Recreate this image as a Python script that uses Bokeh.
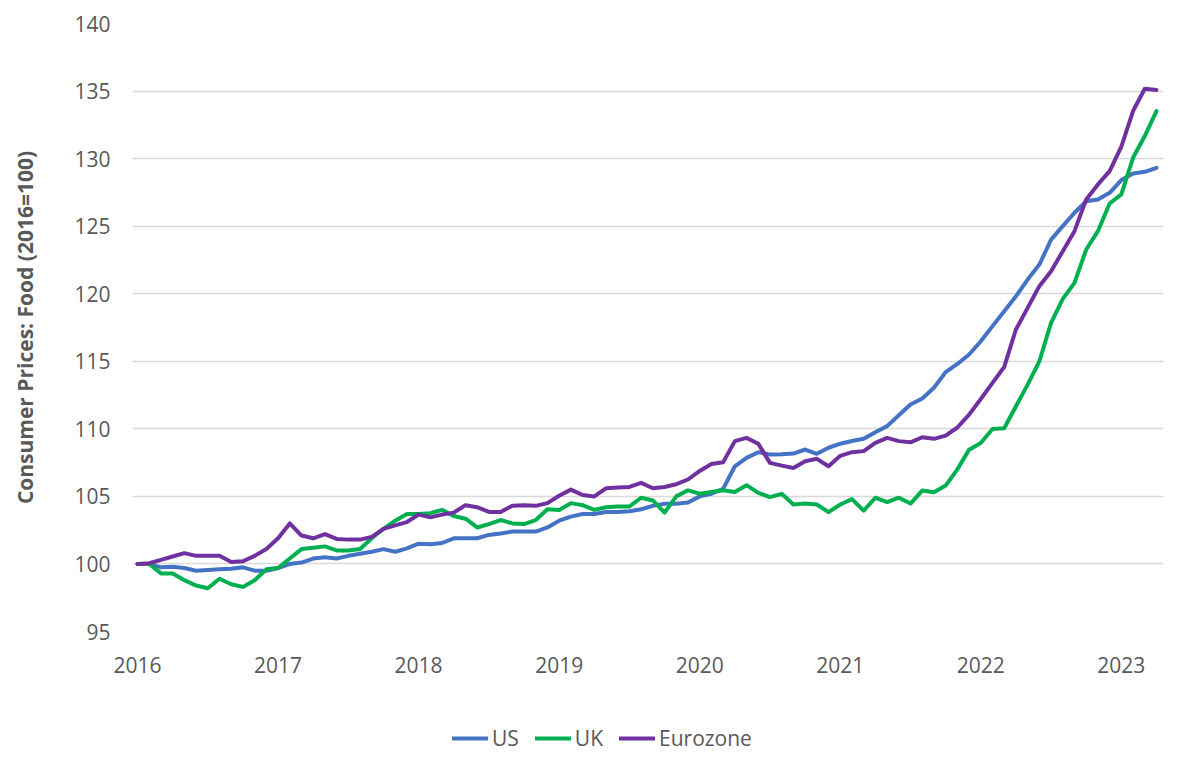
from bokeh.plotting import figure
from bokeh.layouts import column
from bokeh.models import Range1d, FixedTicker, Legend, LegendItem
from bokeh.embed import file_html
from bokeh.resources import INLINE

# Monthly index: 0 = Jan 2016 ... 87 = Apr 2023
months = list(range(88))

us = [100.0, 100.0, 99.75, 99.8, 99.7, 99.5, 99.55, 99.6, 99.65, 99.75, 99.5, 99.5,
      99.7, 100.0, 100.1, 100.4, 100.5, 100.4, 100.6, 100.75, 100.9, 101.1, 100.9, 101.15,
      101.5, 101.45, 101.55, 101.9, 101.9, 101.9, 102.15, 102.25, 102.4, 102.4, 102.4, 102.7,
      103.2, 103.5, 103.7, 103.7, 103.85, 103.85, 103.9, 104.05, 104.3, 104.45, 104.45, 104.55,
      105.0, 105.2, 105.55, 107.23, 107.85, 108.27, 108.1, 108.12, 108.17, 108.47, 108.15, 108.6,
      108.9, 109.1, 109.26, 109.75, 110.2, 111.0, 111.8, 112.25, 113.04, 114.2, 114.8, 115.5,
      116.48, 117.6, 118.7, 119.81, 121.05, 122.16, 124.0, 125.0, 125.99, 126.85, 126.98, 127.47,
      128.41, 128.9, 129.02, 129.32]

uk = [100.0, 100.0, 99.3, 99.3, 98.8, 98.4, 98.2, 98.9, 98.5, 98.3, 98.8, 99.6,
      99.7, 100.4, 101.1, 101.2, 101.3, 101.0, 101.0, 101.1, 101.9, 102.6, 103.2, 103.7,
      103.7, 103.75, 104.0, 103.55, 103.35, 102.7, 102.95, 103.25, 103.0, 102.95, 103.25, 104.05,
      104.0, 104.5, 104.35, 104.0, 104.2, 104.25, 104.25, 104.9, 104.7, 103.8, 105.0, 105.45,
      105.2, 105.33, 105.45, 105.33, 105.83, 105.26, 104.94, 105.19, 104.4, 104.47, 104.4, 103.83,
      104.4, 104.8, 103.95, 104.9, 104.57, 104.9, 104.47, 105.43, 105.3, 105.8, 107.0, 108.46,
      108.95, 109.99, 110.04, 111.67, 113.27, 115.0, 117.84, 119.62, 120.8, 123.27, 124.63, 126.68,
      127.35, 130.06, 131.67, 133.52]

eurozone = [100.0, 100.05, 100.3, 100.55, 100.8, 100.6, 100.6, 100.6, 100.15, 100.2, 100.6, 101.1,
            101.9, 103.0, 102.1, 101.9, 102.2, 101.85, 101.8, 101.8, 102.0, 102.6, 102.85, 103.1,
            103.65, 103.45, 103.65, 103.8, 104.35, 104.2, 103.85, 103.85, 104.3, 104.35, 104.3, 104.5,
            105.05, 105.5, 105.1, 105.0, 105.6, 105.65, 105.7, 106.0, 105.6, 105.7, 105.9, 106.25,
            106.88, 107.4, 107.53, 109.09, 109.33, 108.9, 107.48, 107.28, 107.1, 107.6, 107.78, 107.23,
            108.0, 108.27, 108.35, 108.96, 109.33, 109.09, 109.0, 109.38, 109.26, 109.5, 110.1, 111.05,
            112.21, 113.4, 114.58, 117.35, 118.95, 120.56, 121.67, 123.15, 124.63, 126.98, 128.09, 129.07,
            130.88, 133.52, 135.17, 135.07]

series_names = ["US", "UK", "Eurozone"]
series_colors = ["#4472C4", "#00B050", "#7030A0"]
series_data = [us, uk, eurozone]

year_ticks = [0, 12, 24, 36, 48, 60, 72, 84]
year_labels = ["2016", "2017", "2018", "2019", "2020", "2021", "2022", "2023"]
y_ticks = [95, 100, 105, 110, 115, 120, 125, 130, 135, 140]

FONT = "Open Sans"
TXT = "#595959"

p = figure(width=1184, height=686, output_backend="svg", toolbar_location=None,
           x_range=Range1d(-0.43, 87.6), y_range=Range1d(95, 140),
           min_border_left=132, min_border_right=21, min_border_top=23, min_border_bottom=55)
p.outline_line_color = None
p.background_fill_color = "white"
p.border_fill_color = "white"

for name, data, col in zip(series_names, series_data, series_colors):
    p.line(months, data, line_color=col, line_width=4, line_join="round", line_cap="round")

p.xaxis.ticker = FixedTicker(ticks=year_ticks)
p.xaxis.major_label_overrides = {t: l for t, l in zip(year_ticks, year_labels)}
p.xaxis.axis_line_color = None
p.xaxis.major_tick_line_color = None
p.xaxis.minor_tick_line_color = None
p.xaxis.major_label_standoff = 19
p.xaxis.major_label_text_font = FONT
p.xaxis.major_label_text_font_size = "21px"
p.xaxis.major_label_text_color = TXT

p.yaxis.ticker = FixedTicker(ticks=y_ticks)
p.yaxis.axis_line_color = None
p.yaxis.major_tick_line_color = None
p.yaxis.minor_tick_line_color = None
p.yaxis.major_label_standoff = 16
p.yaxis.major_label_text_font = FONT
p.yaxis.major_label_text_font_size = "21px"
p.yaxis.major_label_text_color = TXT
p.yaxis.axis_label = "Consumer Prices: Food (2016=100)"
p.yaxis.axis_label_text_font = FONT
p.yaxis.axis_label_text_font_size = "21px"
p.yaxis.axis_label_text_font_style = "bold"
p.yaxis.axis_label_text_color = TXT
p.yaxis.axis_label_standoff = 32

p.xgrid.grid_line_color = None
p.ygrid.grid_line_color = "#D9D9D9"
p.ygrid.grid_line_width = 1.4

# legend strip underneath the chart (series lie outside its visible range)
pl = figure(width=1184, height=70, output_backend="svg", toolbar_location=None,
            x_range=Range1d(0, 1), y_range=Range1d(0, 1),
            x_axis_type=None, y_axis_type=None,
            min_border_left=0, min_border_right=0, min_border_top=0, min_border_bottom=0)
pl.outline_line_color = None
pl.xgrid.grid_line_color = None
pl.ygrid.grid_line_color = None
items = []
for name, data, col in zip(series_names, series_data, series_colors):
    r = pl.line(months, data, line_color=col, line_width=4, line_cap="round")
    items.append(LegendItem(label=name, renderers=[r]))

legend = Legend(items=items, orientation="horizontal", location=(320, 4))
legend.label_text_font = FONT
legend.label_text_font_size = "21px"
legend.label_text_color = TXT
legend.glyph_width = 36
legend.glyph_height = 20
legend.label_standoff = 4
legend.spacing = 16
legend.padding = 0
legend.margin = 0
legend.border_line_color = None
legend.background_fill_alpha = 0
pl.add_layout(legend, "center")

layout = column(p, pl, spacing=0)
open("out.html", "w").write(file_html(layout, INLINE))
